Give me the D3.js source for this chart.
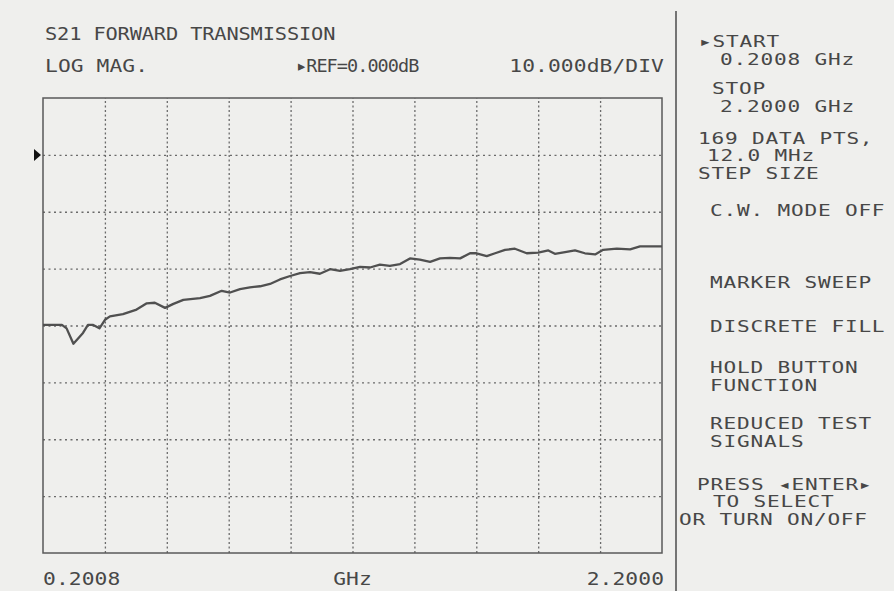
<!DOCTYPE html>
<html>
<head>
<meta charset="utf-8">
<script src="https://cdn.jsdelivr.net/npm/d3@7/dist/d3.min.js"></script>
<style>
  html, body { margin: 0; padding: 0; background: #efefed; }
  svg { display: block; }
  text { font-family: 'DejaVu Sans Mono', monospace; fill: #474747; }
</style>
</head>
<body>
<svg id="chart" width="894" height="591"></svg>
<script>
// trace (GHz, dB)
const freqGHz = [
  0.2008, 0.262, 0.277, 0.299, 0.330, 0.346, 0.363, 0.383, 0.401, 0.417,
  0.459, 0.503, 0.536, 0.562, 0.595, 0.622, 0.654, 0.708, 0.740, 0.778,
  0.805, 0.837, 0.869, 0.902, 0.934, 0.966, 0.999, 1.031, 1.063, 1.095,
  1.128, 1.160, 1.192, 1.225, 1.257, 1.289, 1.321, 1.354, 1.386, 1.418,
  1.451, 1.483, 1.515, 1.548, 1.580, 1.601, 1.634, 1.661, 1.693, 1.725,
  1.763, 1.800, 1.833, 1.854, 1.887, 1.919, 1.951, 1.984, 2.010, 2.054,
  2.097, 2.129, 2.200
]
const s21dB = [
  -29.9, -29.9, -30.5, -33.2, -31.3, -29.9, -29.9, -30.5, -29.0, -28.4,
  -28.0, -27.2, -26.1, -26.0, -26.9, -26.2, -25.5, -25.2, -24.8, -23.9,
  -24.2, -23.6, -23.3, -23.1, -22.7, -21.9, -21.3, -20.8, -20.6, -20.9,
  -20.1, -20.4, -20.1, -19.7, -19.8, -19.3, -19.5, -19.2, -18.2, -18.4,
  -18.8, -18.2, -18.1, -18.2, -17.3, -17.3, -17.8, -17.3, -16.7, -16.5,
  -17.3, -17.2, -16.8, -17.4, -17.1, -16.8, -17.3, -17.5, -16.7, -16.5,
  -16.6, -16.1, -16.1
]

const startGHz = 0.2008
const stopGHz = 2.2
const refLevel = 0
const dbPerDiv = 10
const xDivisions = 10
const yDivisions = 8
const refDivFromTop = 1

const titleText = 'S21 FORWARD TRANSMISSION'
const formatText = 'LOG MAG.'
const refText = '\u25B8REF=0.000dB'
const scaleText = '10.000dB/DIV'
const xTickLabels = ['0.2008', 'GHz', '2.2000']
const menuText = [
  '\u25B8START', '0.2008 GHz', 'STOP', '2.2000 GHz',
  '169 DATA PTS,', '12.0 MHz', 'STEP SIZE',
  'C.W. MODE OFF', 'MARKER SWEEP', 'DISCRETE FILL',
  'HOLD BUTTON', 'FUNCTION', 'REDUCED TEST', 'SIGNALS',
  'PRESS \u25C2ENTER\u25B8', 'TO SELECT', 'OR TURN ON/OFF'
]

const c = {
  width: 894,
  height: 591,
  plot: { left: 43, right: 662, top: 98, bottom: 553 },
  divider: 676,
  monoAdvance: 0.602 // DejaVu Sans Mono advance per em
}

// softkey column layout: [x, baseline]
const menuPos = [
  [699, 47], [720, 65], [712, 94], [720, 111.5],
  [698, 143.5], [707, 161], [698, 178.5],
  [710, 216], [710, 288], [710, 332],
  [710, 373], [710, 390.5], [710, 429], [710, 446.5],
  [697, 489.5], [713, 507], [679, 524.5]
]

const svg = d3.select('#chart')
const p = c.plot

const yTop = refLevel + refDivFromTop * dbPerDiv
const yBottom = yTop - yDivisions * dbPerDiv

const xScale = d3.scaleLinear([startGHz, stopGHz], [p.left, p.right])
const yScale = d3.scaleLinear([yBottom, yTop], [p.bottom, p.top])

const xGrid = d3.range(1, xDivisions).map((i) => startGHz + (i * (stopGHz - startGHz)) / xDivisions)
const yGrid = d3.range(1, yDivisions).map((i) => yBottom + i * dbPerDiv)

svg.append('rect')
  .attr('width', c.width)
  .attr('height', c.height)
  .attr('fill', '#efefed')

// Grid
svg.append('g')
  .attr('transform', `translate(0,${ p.bottom })`)
  .call(d3.axisBottom(xScale).tickValues(xGrid).tickSize(-(p.bottom - p.top)).tickFormat(''))
  .call((g) => g.select('.domain').remove())
  .selectAll('line')
  .attr('stroke', '#6a6a6a')
  .attr('stroke-width', 1.3)
  .attr('stroke-dasharray', '2,2.5')

svg.append('g')
  .attr('transform', `translate(${ p.left },0)`)
  .call(d3.axisLeft(yScale).tickValues(yGrid).tickSize(-(p.right - p.left)).tickFormat(''))
  .call((g) => g.select('.domain').remove())
  .selectAll('line')
  .attr('stroke', '#6a6a6a')
  .attr('stroke-width', 1.3)
  .attr('stroke-dasharray', '2,3.5')

svg.append('rect')
  .attr('x', p.left)
  .attr('y', p.top)
  .attr('width', p.right - p.left)
  .attr('height', p.bottom - p.top)
  .attr('fill', 'none')
  .attr('stroke', '#5a5a5a')
  .attr('stroke-width', 1.5)

// Trace
const points = freqGHz.map((f, i) => [f, s21dB[i]])
svg.append('path')
  .datum(points)
  .attr('fill', 'none')
  .attr('stroke', '#505050')
  .attr('stroke-width', 2.3)
  .attr('stroke-linejoin', 'round')
  .attr('d', d3.line((d) => xScale(d[0]), (d) => yScale(d[1])))

// reference position marker
const ry = yScale(refLevel)
svg.append('path')
  .attr('d', `M${ p.left - 9 },${ ry - 6 }L${ p.left - 2 },${ ry }L${ p.left - 9 },${ ry + 6 }Z`)
  .attr('fill', '#111')

// softkey divider
svg.append('line')
  .attr('x1', c.divider)
  .attr('x2', c.divider)
  .attr('y1', 11)
  .attr('y2', c.height)
  .attr('stroke', '#555')
  .attr('stroke-width', 1.6)

// monospace text, widened, with a fixed character pitch
const label = (t, x, y, size, pitch, stretch, anchor = 'start') => {
  const spacing = pitch / stretch - size * c.monoAdvance
  const width = t.length * pitch - spacing * stretch
  const x0 = anchor === 'end' ? x - width : anchor === 'middle' ? x - width / 2 : x
  svg.append('text')
    .attr('transform', `translate(${ x0 },${ y }) scale(${ stretch },1)`)
    .attr('font-size', size)
    .attr('letter-spacing', spacing)
    .text(t)
}

label(titleText, p.left + 2, 40, 18.5, 12.1, 1.1)
label(formatText, p.left + 2, 72, 18.5, 12.9, 1.15)
label(refText, 296, 72, 18.5, 10.2, 1.0)
label(scaleText, p.right + 2, 72, 18.5, 12.9, 1.15, 'end')

label(xTickLabels[0], p.left, 585, 18.5, 12.9, 1.15)
label(xTickLabels[1], (p.left + p.right) / 2, 585, 18.5, 12.9, 1.15, 'middle')
label(xTickLabels[2], p.right + 2, 585, 18.5, 12.9, 1.15, 'end')

menuText.forEach((t, i) => label(t, menuPos[i][0], menuPos[i][1], 16, 13.5, 1.32))
</script>
</body>
</html>
